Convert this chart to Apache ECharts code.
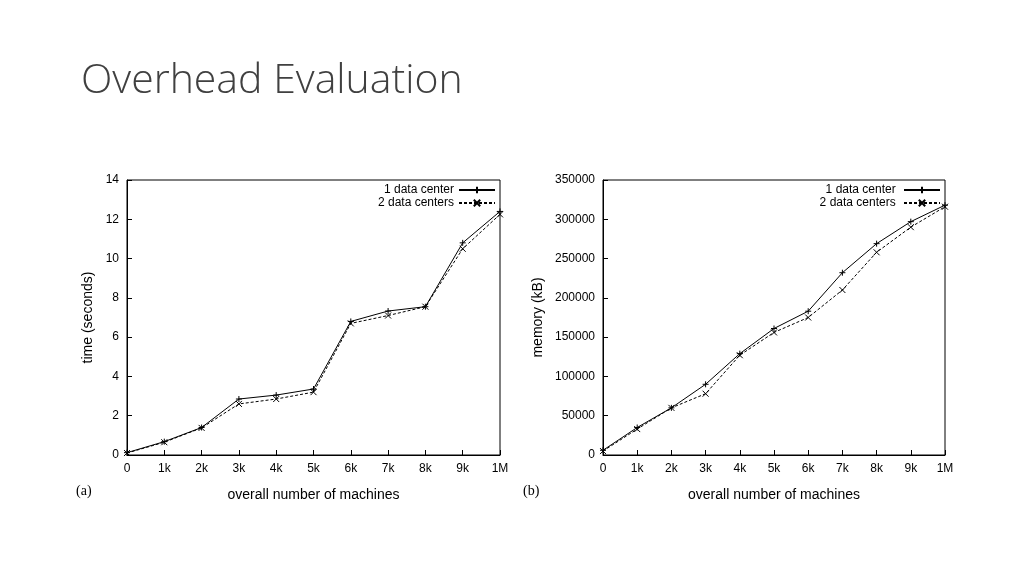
<!DOCTYPE html>
<html><head><meta charset="utf-8">
<script src="https://cdn.jsdelivr.net/npm/echarts@6/dist/echarts.min.js"></script>
<style>html,body{margin:0;background:#fff}#c{width:1024px;height:576px}</style></head>
<body><div id="c"></div>
<script>
const xLabels = ['0','1k','2k','3k','4k','5k','6k','7k','8k','9k','1M'];
const timeOne = [0.12,0.68,1.4,2.85,3.05,3.36,6.8,7.33,7.55,10.8,12.4];
const timeTwo = [0.1,0.65,1.38,2.6,2.85,3.2,6.7,7.1,7.55,10.5,12.25];
const memOne = [6000,35000,60000,90000,129000,161000,183000,232000,269000,297000,318000];
const memTwo = [5000,33000,60000,78000,127000,156000,175000,210000,258000,290000,316000];
const pts = a => a.map((v,i)=>[i,v]);
const plus = 'path://M0,5L10,5M5,0L5,10';
const cross = 'path://M0,0L10,10M10,0L0,10';
const font = 'Liberation Sans';
function xAx(gi){return {type:'value',gridIndex:gi,min:0,max:10,interval:1,
  axisLine:{lineStyle:{color:'#000'}},axisTick:{inside:true,lineStyle:{color:'#000'}},splitLine:{show:false},
  axisLabel:{formatter:v=>xLabels[v],color:'#000',fontFamily:font,fontSize:12,margin:8},
  name:'overall number of machines',nameLocation:'middle',nameGap:33,nameTextStyle:{color:'#000',fontFamily:font,fontSize:14}};}
function yAx(gi,max,iv,name,gap){return {type:'value',gridIndex:gi,min:0,max:max,interval:iv,
  axisLine:{show:true,lineStyle:{color:'#000'}},axisTick:{inside:true,lineStyle:{color:'#000'}},splitLine:{show:false},
  axisLabel:{color:'#000',fontFamily:font,fontSize:12,formatter:v=>String(v)},
  name:name,nameLocation:'middle',nameGap:gap,nameTextStyle:{color:'#000',fontFamily:font,fontSize:14}};}
function ser(name,data,gi,dashed,sym){return {name:name,type:'line',xAxisIndex:gi,yAxisIndex:gi,data:pts(data),
  symbol:sym,symbolSize:6,lineStyle:{color:'#000',width:1,type:dashed?[3,2]:'solid'},
  itemStyle:{color:'#000',borderColor:'#000',borderWidth:1}};}
function leg(gi,right){return {data:[{name:'1 data center'+(gi?' ':'')},{name:'2 data centers'+(gi?' ':'')}],
  orient:'vertical',right:right,top:184,align:'right',itemGap:1,itemWidth:36,itemHeight:8,
  textStyle:{color:'#000',fontFamily:font,fontSize:12},padding:0};}
const chart = echarts.init(document.getElementById('c'));
chart.setOption({
  animation:false,
  title:{text:'Overhead Evaluation',left:76,top:56,textStyle:{fontFamily:'Open Sans',fontWeight:300,fontSize:41,color:'#404040'}},
  graphic:[
    {type:'text',left:76,top:484,style:{text:'(a)',font:'14px "Liberation Serif"',fill:'#000'}},
    {type:'text',left:523,top:484,style:{text:'(b)',font:'14px "Liberation Serif"',fill:'#000'}}
  ],
  grid:[{left:127,right:524,top:180,bottom:121,show:true,borderColor:'#000',borderWidth:1},
        {left:603,right:79,top:180,bottom:121,show:true,borderColor:'#000',borderWidth:1}],
  xAxis:[xAx(0),xAx(1)],
  yAxis:[yAx(0,14,2,'time (seconds)',32),yAx(1,350000,50000,'memory (kB)',58)],
  legend:[leg(0,528),leg(1,83)],
  series:[ser('1 data center',timeOne,0,false,plus),ser('2 data centers',timeTwo,0,true,cross),
          ser('1 data center ',memOne,1,false,plus),ser('2 data centers ',memTwo,1,true,cross)]
});
</script></body></html>
